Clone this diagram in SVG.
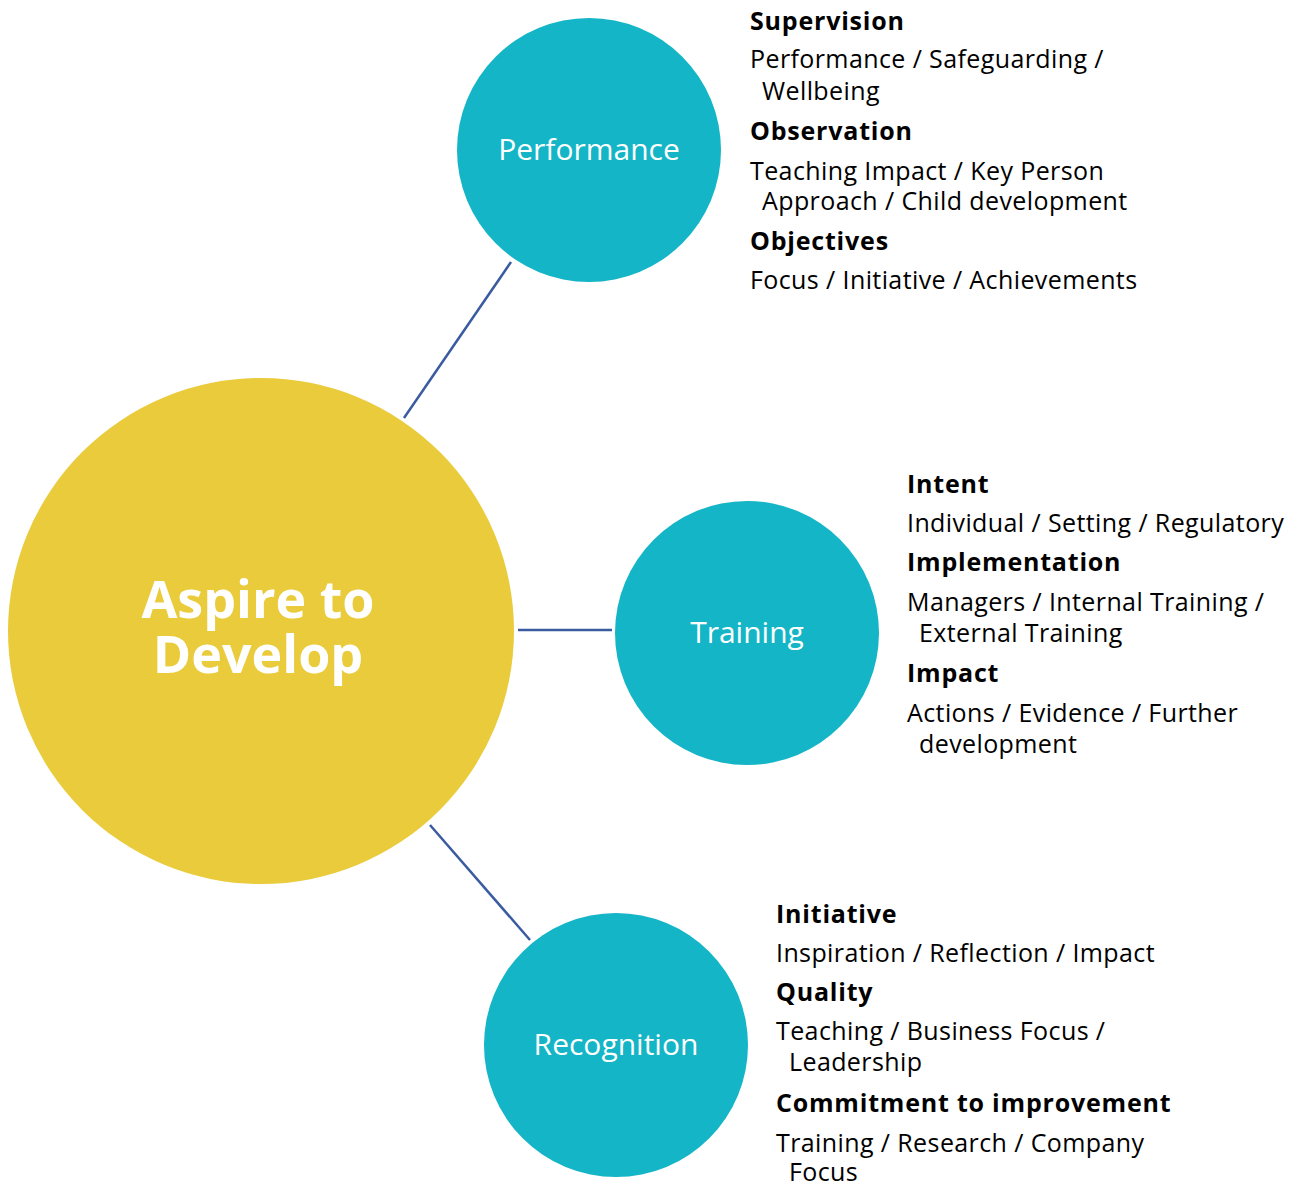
<svg xmlns="http://www.w3.org/2000/svg" width="1306" height="1185" viewBox="0 0 1306 1185">
<style>
.hub{fill:#E9CB3B}
.sat{fill:#14B5C6}
.conn{stroke:#3A5BA0;stroke-width:2.5;fill:none}
.lbl{font-family:"Open Sans","Noto Sans",sans-serif;fill:#FFFFFF;text-anchor:middle}
.hd{font-family:"Open Sans","Noto Sans",sans-serif;font-weight:bold;font-size:25px;letter-spacing:0.8px;fill:#000}
.tx{font-family:"Open Sans","Noto Sans",sans-serif;font-size:25px;letter-spacing:0.4px;fill:#000}
</style>
<rect width="1306" height="1185" fill="#FFFFFF"/>
<g id="connectors">
<line class="conn" x1="511" y1="262" x2="404" y2="418"/>
<line class="conn" x1="518" y1="630" x2="612" y2="630"/>
<line class="conn" x1="430" y1="825" x2="530" y2="940"/>
</g>
<g id="node-aspire">
<circle class="hub" cx="261" cy="631" r="253"/>
<text class="lbl" x="258" y="618" font-size="52" font-weight="bold">Aspire to</text>
<text class="lbl" x="258" y="673" font-size="52" font-weight="bold">Develop</text>
</g>
<g id="node-performance">
<circle class="sat" cx="589" cy="150" r="132"/>
<text class="lbl" x="589" y="160" font-size="30">Performance</text>
</g>
<g id="node-training">
<circle class="sat" cx="747" cy="633" r="132"/>
<text class="lbl" x="747" y="643" font-size="30">Training</text>
</g>
<g id="node-recognition">
<circle class="sat" cx="616" cy="1045" r="132"/>
<text class="lbl" x="616" y="1055" font-size="30">Recognition</text>
</g>
<g id="text-performance">
<text class="hd" x="750" y="30">Supervision</text>
<text class="tx" x="750" y="68">Performance / Safeguarding /</text>
<text class="tx" x="762" y="100">Wellbeing</text>
<text class="hd" x="750" y="140">Observation</text>
<text class="tx" x="750" y="180">Teaching Impact / Key Person</text>
<text class="tx" x="762" y="210">Approach / Child development</text>
<text class="hd" x="750" y="250">Objectives</text>
<text class="tx" x="750" y="289">Focus / Initiative / Achievements</text>
</g>
<g id="text-training">
<text class="hd" x="907" y="493">Intent</text>
<text class="tx" x="907" y="532">Individual / Setting / Regulatory</text>
<text class="hd" x="907" y="571">Implementation</text>
<text class="tx" x="907" y="611">Managers / Internal Training /</text>
<text class="tx" x="919" y="642">External Training</text>
<text class="hd" x="907" y="682">Impact</text>
<text class="tx" x="907" y="722">Actions / Evidence / Further</text>
<text class="tx" x="919" y="753">development</text>
</g>
<g id="text-recognition">
<text class="hd" x="776" y="923">Initiative</text>
<text class="tx" x="776" y="962">Inspiration / Reflection / Impact</text>
<text class="hd" x="776" y="1001">Quality</text>
<text class="tx" x="776" y="1040">Teaching / Business Focus /</text>
<text class="tx" x="789" y="1071">Leadership</text>
<text class="hd" x="776" y="1112">Commitment to improvement</text>
<text class="tx" x="776" y="1152">Training / Research / Company</text>
<text class="tx" x="789" y="1181">Focus</text>
</g>
</svg>
